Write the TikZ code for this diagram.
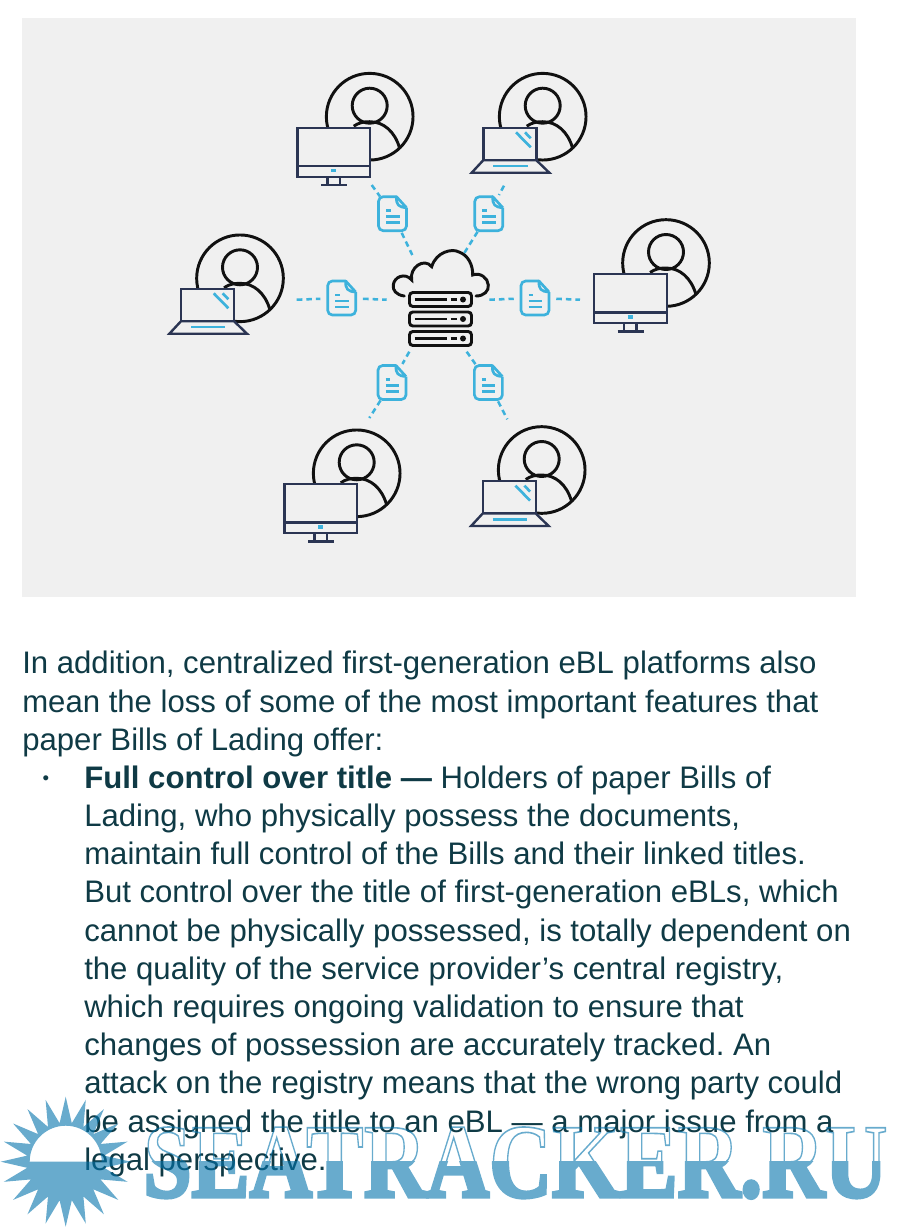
\documentclass[tikz,border=0pt]{standalone}
\usepackage{fontspec}
\setmainfont{Liberation Sans}
\newfontfamily\markfont{Liberation Serif}
\usepackage{xcolor}
\definecolor{cPanel}{HTML}{F0F0F0}
\definecolor{cInk}{HTML}{111111}
\definecolor{cDevice}{HTML}{2B3553}
\definecolor{cBlue}{HTML}{3DB2DC}
\definecolor{cText}{HTML}{0F3A45}
\definecolor{cMark}{HTML}{0373AC}
\usetikzlibrary{positioning,arrows.meta,calc}
\tikzset{
  node-disc/.style={draw=cInk,line width=2.2pt,circle,minimum size=65pt,inner sep=0pt},
  node-doc/.style={circle,minimum size=31.5pt,inner sep=0pt},
  node-copy/.style={anchor=north west,inner sep=0pt,align=left,text=cText,
    font=\fontsize{23.35}{28.65}\selectfont\frenchspacing},
  node-dot/.style={inner sep=0pt,text=cText,font=\fontsize{14}{14}\selectfont},
  node-mark/.style={anchor=base west,inner sep=0pt,text=cMark,xscale=0.825,transform shape,
    font=\markfont\bfseries\fontsize{79}{79}\selectfont},
  line-ink/.style={draw=cInk,line width=2.2pt},
  line-device/.style={draw=cDevice,line width=1.8pt,line join=miter},
  line-blue/.style={draw=cBlue,line width=2pt},
  link-dash/.style={draw=cBlue,line width=1.9pt,dash pattern=on 4.2pt off 3pt},
  pic-person/.pic={
    \draw[line-ink] (0,-11) circle[radius=17.5];
    \draw[line-ink] (-16,9.5) .. controls (-11,6) and (-6,5) .. (0,5)
      .. controls (14,5) and (25,15) .. (29.7,30.7);
  },
  pic-monitor/.pic={
    \draw[line-device,fill=cPanel] (0,0) rectangle (72.7,49);
    \draw[line-device] (0,38.3) -- (72.7,38.3);
    \draw[line-device] (30,49) -- (30,57.3) (42.6,49) -- (42.6,57.3) (23.7,57.3) -- (50,57.3);
    \draw[line-blue,line width=2.4pt] (33.7,43) -- (39,43);
  },
  pic-laptop/.pic={
    \draw[line-device,fill=cPanel] (0,0) rectangle (53,32.5);
    \draw[line-device,fill=cPanel] (0,32.5) -- (-11.6,45) -- (66,45) -- (53,32.5) -- cycle;
    \draw[line-blue] (10,38.3) -- (44.4,38.3);
    \draw[line-blue] (32.7,4.6) -- (47.4,19.6) (41.7,4.6) -- (47.4,10.6);
  },
  pic-doc/.pic={
    \draw[line-blue,rounded corners=3.5pt] (4,-17) -- (-14,-17) -- (-14,17) -- (14,17) -- (14,-6);
    \draw[line-blue,line join=round] (14,-6) -- (4,-17) .. controls (3.5,-9) and (6,-6.5) .. (14,-6);
    \draw[line-blue] (-6.5,-3) -- (-2,-3) (-6.5,3) -- (7,3) (-6.5,9) -- (7,9);
  },
  pic-rack/.pic={
    \draw[line-ink,rounded corners=2.5pt] (-31,-7) rectangle (31,7);
    \draw[line-ink] (-26,0) -- (6,0) (10,0) -- (16,0);
    \fill[cInk] (22.5,0) circle[radius=3];
  },
}
\begin{document}
\begin{tikzpicture}[x=0.75pt,y=-0.75pt]
  \useasboundingbox (0,0) rectangle (902,1228);
  \fill[cPanel] (22,18) rectangle (856,597);

  % users round the hub
  \node[node-disc] (userNW) at (369.7,116.7) {};
    \pic at (userNW) {pic-person};
    \pic at (297.3,127.7) {pic-monitor};
  \node[node-disc] (userNE) at (542.7,116.7) {};
    \pic at (userNE) {pic-person};
    \pic at (483.3,127.7) {pic-laptop};
  \node[node-disc] (userW) at (240,278.3) {};
    \pic at (userW) {pic-person};
    \pic at (181,288.7) {pic-laptop};
  \node[node-disc] (userE) at (666,263) {};
    \pic at (userE) {pic-person};
    \pic at (594,274) {pic-monitor};
  \node[node-disc] (userSW) at (356.7,473.3) {};
    \pic at (userSW) {pic-person};
    \pic at (284.3,484) {pic-monitor};
  \node[node-disc] (userSE) at (541.7,470) {};
    \pic at (userSE) {pic-person};
    \pic at (482.7,481) {pic-laptop};

  % hub
  \draw[line-ink,line cap=round] (404.3,296) .. controls (396,295) and (392.5,290) .. (393.3,285)
    .. controls (394,277) and (405,272) .. (411.7,280)
    .. controls (409,268) and (424,257) .. (431.7,266.7)
    .. controls (436,252) and (452,248) .. (459,252)
    .. controls (468,255) and (473,265) .. (472.7,275)
    .. controls (480,272) and (488,278) .. (488.3,285)
    .. controls (489,291) and (484,296) .. (476,296);
  \pic at (440.5,299.5) {pic-rack};
  \pic at (440.5,319) {pic-rack};
  \pic at (440.5,338.5) {pic-rack};
  \coordinate (hubNW) at (412.3,255);
  \coordinate (hubNE) at (464.3,253);
  \coordinate (hubW) at (386.7,299.7);
  \coordinate (hubE) at (489.3,299.7);
  \coordinate (hubSW) at (409.3,351.7);
  \coordinate (hubSE) at (466.7,351.7);

  % documents
  \node[node-doc] (docNW) at (392.5,213.7) {}; \pic at (docNW) {pic-doc};
  \node[node-doc] (docNE) at (488.8,213.7) {}; \pic at (docNE) {pic-doc};
  \node[node-doc] (docW) at (341.7,298) {}; \pic at (docW) {pic-doc};
  \node[node-doc] (docE) at (535,298) {}; \pic at (docE) {pic-doc};
  \node[node-doc] (docSW) at (392,382.5) {}; \pic at (docSW) {pic-doc};
  \node[node-doc] (docSE) at (488.4,382.5) {}; \pic at (docSE) {pic-doc};

  % free ends towards the users
  \coordinate (tipNW) at (371.7,185);
  \coordinate (tipNE) at (504,185.7);
  \coordinate (tipW) at (296.7,299.7);
  \coordinate (tipE) at (580,299.7);
  \coordinate (tipSW) at (369.3,418);
  \coordinate (tipSE) at (507.3,419.3);

  \draw[link-dash] (tipNW) -- (docNW);
  \draw[link-dash] (docNW) -- (hubNW);
  \draw[link-dash] (tipNE) -- (docNE);
  \draw[link-dash] (docNE) -- (hubNE);
  \draw[link-dash] (tipW) -- (docW);
  \draw[link-dash] (docW) -- (hubW);
  \draw[link-dash] (hubE) -- (docE);
  \draw[link-dash] (docE) -- (tipE);
  \draw[link-dash] (hubSW) -- (docSW);
  \draw[link-dash] (docSW) -- (tipSW);
  \draw[link-dash] (hubSE) -- (docSE);
  \draw[link-dash] (docSE) -- (tipSE);

  % text
  \node[node-copy] (copyIntro) at (22,651) {In addition, centralized first-generation eBL platforms also\\
    mean the loss of some of the most important features that\\
    paper Bills of Lading offer:};
  \node[node-dot] (copyDot) at (46,780) {•};
  \node[node-copy] (copyItem) at (84,765.5) {\textbf{Full control over title —} Holders of paper Bills of\\
    Lading, who physically possess the documents,\\
    maintain full control of the Bills and their linked titles.\\
    But control over the title of first-generation eBLs, which\\
    cannot be physically possessed, is totally dependent on\\
    the quality of the service provider’s central registry,\\
    which requires ongoing validation to ensure that\\
    changes of possession are accurately tracked. An\\
    attack on the registry means that the wrong party could\\
    be assigned the title to an eBL — a major issue from a\\
    legal perspective.};

  % watermark
  \begin{scope}[transparency group,opacity=0.6]
    \fill[cMark,even odd rule,shift={(65.7,1161.7)}] (0:65)
      \foreach \a in {0,18,...,342}{ -- (\a:65) -- (\a+9:39) } -- cycle
      (-36,0) arc[start angle=180,end angle=360,radius=36] -- cycle;
    \begin{scope}
      \clip (140,1120) rectangle (895,1161.7);
      \node[node-mark] (markTop) at (143,1196.7)
        {\special{pdf:code 1 Tr 1.2 w}SEATRACKER.RU\special{pdf:code 0 Tr 1 w}};
    \end{scope}
    \begin{scope}
      \clip (140,1161.7) rectangle (895,1205);
      \node[node-mark] (markLow) at (143,1196.7)
        {\special{pdf:code 2 Tr 2.8 w}SEATRACKER.RU\special{pdf:code 0 Tr 1 w}};
    \end{scope}
  \end{scope}
\end{tikzpicture}
\end{document}
